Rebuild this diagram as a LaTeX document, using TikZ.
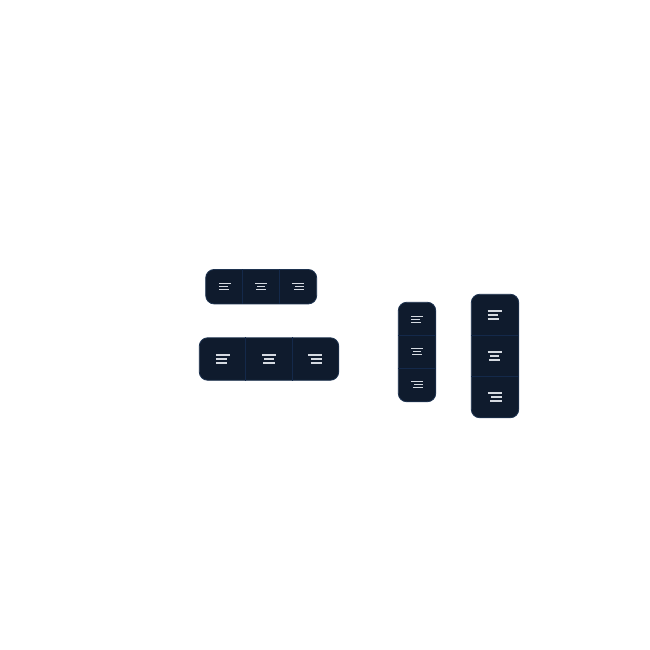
\documentclass[tikz,border=0pt]{standalone}
\usepackage{xcolor}
\usetikzlibrary{calc}
\definecolor{barfill}{HTML}{0F1B2D}
\definecolor{baredge}{HTML}{1E3350}
\definecolor{bardiv}{HTML}{14294A}
\definecolor{iconline}{HTML}{D5DAE1}
\tikzset{
  barbox/.style={draw=baredge,line width=0.8bp,fill=barfill,rounded corners=8.5bp,inner sep=0pt},
  bardivider/.style={draw=bardiv,line width=1.3bp},
  iconstroke/.style={draw=iconline,line width=1.5bp},
  largeicon/.style={xscale=1.17,yscale=1.25,iconstroke/.append style={line width=1.7bp}},
  alignl/.pic={
    \draw[iconstroke] (-6,-3.2) -- (6,-3.2);
    \draw[iconstroke] (-6,0) -- (3,0);
    \draw[iconstroke] (-6,3.2) -- (3.6,3.2);
  },
  alignc/.pic={
    \draw[iconstroke] (-6,-3.2) -- (6,-3.2);
    \draw[iconstroke] (-3.9,0) -- (3.9,0);
    \draw[iconstroke] (-4.8,3.2) -- (4.8,3.2);
  },
  alignr/.pic={
    \draw[iconstroke] (-6,-3.2) -- (6,-3.2);
    \draw[iconstroke] (-3,0) -- (6,0);
    \draw[iconstroke] (-3.6,3.2) -- (6,3.2);
  },
}
\begin{document}
\begin{tikzpicture}[x=1bp,y=-1bp]
  \useasboundingbox (0,0) rectangle (650,650);
  % horizontal bars
  \node[barbox,minimum width=111bp,minimum height=34.5bp] (smallbar) at (261.2,286.7) {};
  \draw[bardivider] ($(smallbar.north west)!1/3!(smallbar.north east)$) -- ($(smallbar.south west)!1/3!(smallbar.south east)$);
  \draw[bardivider] ($(smallbar.north west)!2/3!(smallbar.north east)$) -- ($(smallbar.south west)!2/3!(smallbar.south east)$);
  \pic at (224.9,286.5) {alignl};
  \pic at (261.2,286.5) {alignc};
  \pic at (297.9,286.5) {alignr};
  \node[barbox,minimum width=139.5bp,minimum height=42.5bp] (largebar) at (269,359) {};
  \draw[bardivider] ($(largebar.north west)!1/3!(largebar.north east)$) -- ($(largebar.south west)!1/3!(largebar.south east)$);
  \draw[bardivider] ($(largebar.north west)!2/3!(largebar.north east)$) -- ($(largebar.south west)!2/3!(largebar.south east)$);
  \pic[largeicon] at (223,359) {alignl};
  \pic[largeicon] at (269,359) {alignc};
  \pic[largeicon] at (315,359) {alignr};
  % vertical bars
  \node[barbox,minimum width=37.5bp,minimum height=99.5bp] (smallcol) at (417,352) {};
  \draw[bardivider] ($(smallcol.north west)!1/3!(smallcol.south west)$) -- ($(smallcol.north east)!1/3!(smallcol.south east)$);
  \draw[bardivider] ($(smallcol.north west)!2/3!(smallcol.south west)$) -- ($(smallcol.north east)!2/3!(smallcol.south east)$);
  \pic at (417,319.5) {alignl};
  \pic at (417,351.5) {alignc};
  \pic at (417,384.5) {alignr};
  \node[barbox,minimum width=47.5bp,minimum height=123.5bp] (largecol) at (495,356) {};
  \draw[bardivider] ($(largecol.north west)!1/3!(largecol.south west)$) -- ($(largecol.north east)!1/3!(largecol.south east)$);
  \draw[bardivider] ($(largecol.north west)!2/3!(largecol.south west)$) -- ($(largecol.north east)!2/3!(largecol.south east)$);
  \pic[largeicon] at (494.7,315) {alignl};
  \pic[largeicon] at (494.7,356) {alignc};
  \pic[largeicon] at (494.7,397) {alignr};
\end{tikzpicture}
\end{document}
